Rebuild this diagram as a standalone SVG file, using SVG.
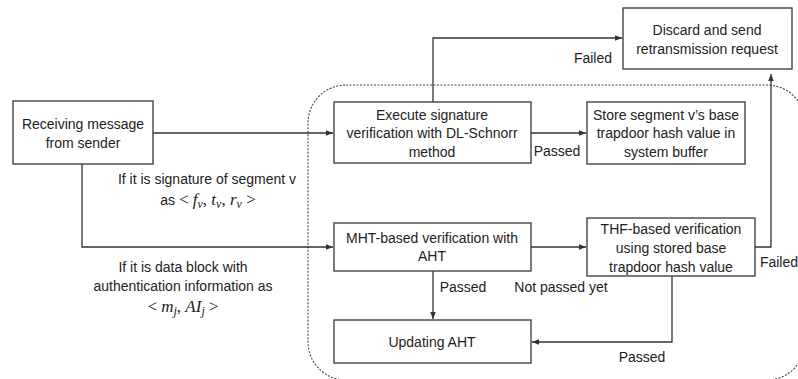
<svg xmlns="http://www.w3.org/2000/svg" width="798" height="379" viewBox="0 0 798 379">
<defs>
<style>
.box{fill:#fff;stroke:#444;stroke-width:1.4}
.ln{fill:none;stroke:#333;stroke-width:1.3}
.dash{fill:none;stroke:#444;stroke-width:1.1;stroke-dasharray:2,1.5}
text{font-family:"Liberation Sans",Arial,sans-serif;font-size:14px;fill:#222}
.c{text-anchor:middle}
.m{font-family:"Liberation Serif","Times New Roman",serif;font-size:17px}
.mi{font-family:"Liberation Serif","Times New Roman",serif;font-style:italic;font-size:17px}
.sub{font-family:"Liberation Serif","Times New Roman",serif;font-style:italic;font-size:12px}
</style>
<marker id="ah" viewBox="0 0 10 10" refX="10" refY="5" markerWidth="7" markerHeight="7" markerUnits="userSpaceOnUse" orient="auto">
<path d="M0,1 L10,5 L0,9 z" fill="#333"/>
</marker>
</defs>
<rect fill="#fff" x="0" y="0" width="798" height="379"/>
<g id="region">
<rect class="dash" x="308" y="85" width="497" height="295" rx="38" ry="38"/>
</g>
<g id="connectors">
<path class="ln" d="M153,133 L333,133" marker-end="url(#ah)"/>
<path class="ln" d="M82,164 L82,247 L333,247" marker-end="url(#ah)"/>
<path class="ln" d="M433,103 L433,38 L622,38" marker-end="url(#ah)"/>
<path class="ln" d="M531,133 L586,133" marker-end="url(#ah)"/>
<path class="ln" d="M531,247 L586,247" marker-end="url(#ah)"/>
<path class="ln" d="M755,247 L771,247 L771,74" marker-end="url(#ah)"/>
<path class="ln" d="M433,271 L433,319" marker-end="url(#ah)"/>
<path class="ln" d="M672,276 L672,342 L532,342" marker-end="url(#ah)"/>
</g>
<g id="labels">
<text class="c" x="207" y="184">If it is signature of segment v</text>
<text class="c" x="208" y="205">as <tspan class="m">&lt; </tspan><tspan class="mi">f</tspan><tspan class="sub" dy="3">v</tspan><tspan class="m" dy="-3">, </tspan><tspan class="mi">t</tspan><tspan class="sub" dy="3">v</tspan><tspan class="m" dy="-3">, </tspan><tspan class="mi">r</tspan><tspan class="sub" dy="3">v</tspan><tspan class="m" dy="-3"> &gt;</tspan></text>
<text class="c" x="183" y="272">If it is data block with</text>
<text class="c" x="183" y="291">authentication information as</text>
<text class="c" x="183" y="312"><tspan class="m">&lt; </tspan><tspan class="mi">m</tspan><tspan class="sub" dy="3">j</tspan><tspan class="m" dy="-3">, </tspan><tspan class="mi">AI</tspan><tspan class="sub" dy="3">j</tspan><tspan class="m" dy="-3"> &gt;</tspan></text>
<text class="c" x="593" y="63">Failed</text>
<text class="c" x="557" y="156">Passed</text>
<text class="c" x="779" y="267">Failed</text>
<text class="c" x="463" y="292">Passed</text>
<text class="c" x="561" y="292">Not passed yet</text>
<text class="c" x="642" y="362">Passed</text>
</g>
<g id="receiving">
<rect class="box" x="13" y="101" width="140" height="63"/>
<text class="c" x="83" y="129">Receiving message</text>
<text class="c" x="83" y="148">from sender</text>
</g>
<g id="execute">
<rect class="box" x="334" y="102" width="197" height="61"/>
<text class="c" x="432" y="120">Execute signature</text>
<text class="c" x="432" y="138">verification with DL-Schnorr</text>
<text class="c" x="432" y="157">method</text>
</g>
<g id="discard">
<rect class="box" x="623" y="8" width="169" height="61"/>
<text class="c" x="707" y="35">Discard and send</text>
<text class="c" x="707" y="54">retransmission request</text>
</g>
<g id="store">
<rect class="box" x="587" y="102" width="158" height="62"/>
<text class="c" x="666" y="120">Store segment v’s base</text>
<text class="c" x="666" y="138">trapdoor hash value in</text>
<text class="c" x="666" y="157">system buffer</text>
</g>
<g id="mht">
<rect class="box" x="334" y="223" width="197" height="48"/>
<text class="c" x="432" y="243">MHT-based verification with</text>
<text class="c" x="432" y="261">AHT</text>
</g>
<g id="thf">
<rect class="box" x="587" y="218" width="168" height="58"/>
<text class="c" x="671" y="234">THF-based verification</text>
<text class="c" x="671" y="253">using stored base</text>
<text class="c" x="671" y="272">trapdoor hash value</text>
</g>
<g id="updating">
<rect class="box" x="334" y="320" width="197" height="43"/>
<text class="c" x="432" y="347">Updating AHT</text>
</g>
</svg>
